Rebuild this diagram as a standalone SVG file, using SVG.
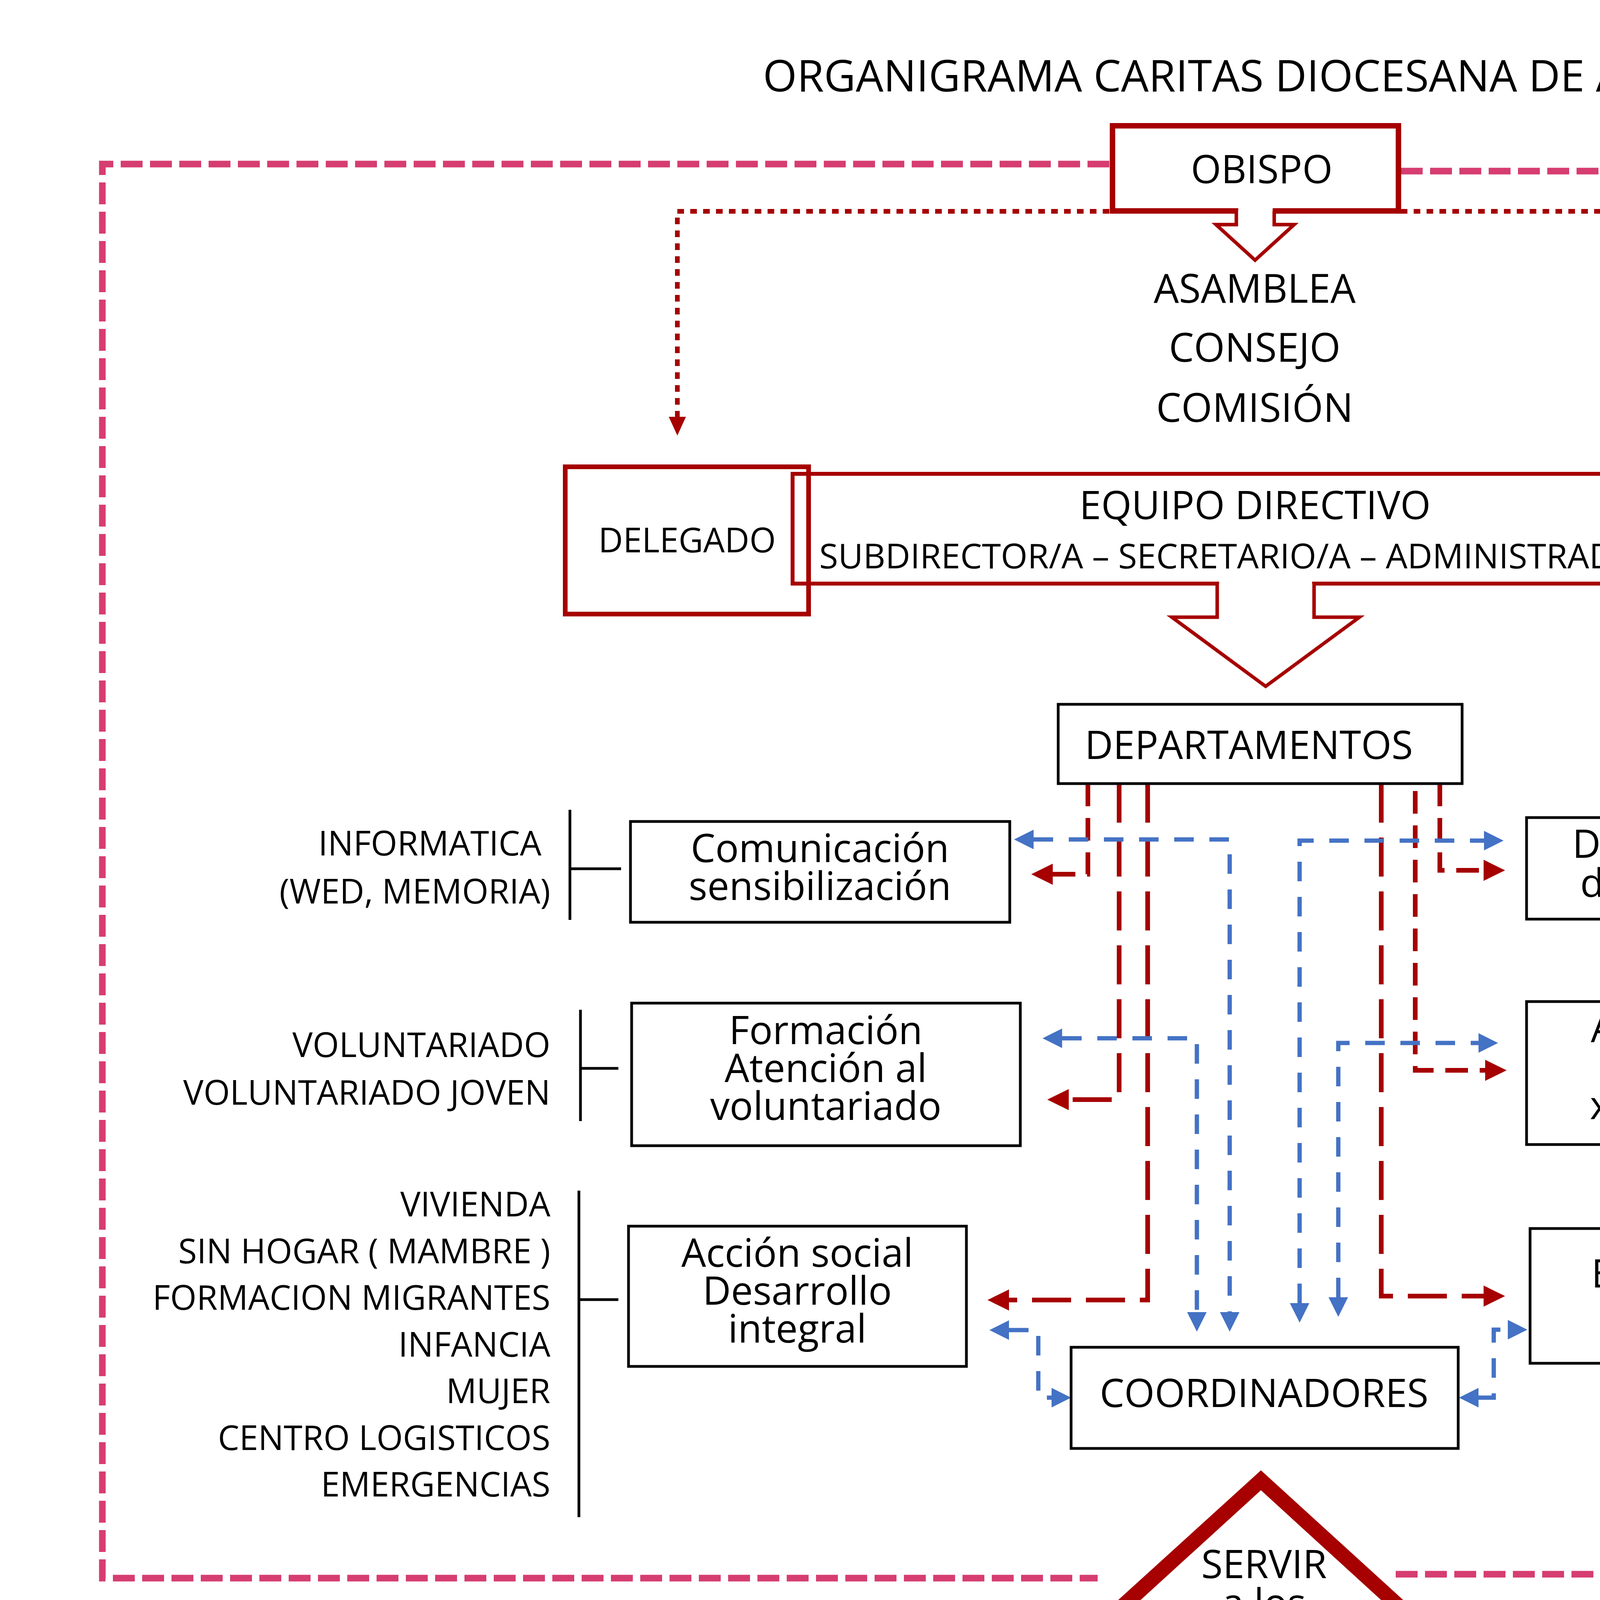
<svg xmlns="http://www.w3.org/2000/svg" width="6500" height="4500" viewBox="0 0 6500 4500">
<style>
text{font-family:"Open Sans","Noto Sans",sans-serif;fill:#000}
.c{text-anchor:middle}
.e{text-anchor:end}
.t100{font-size:100px}
.t85{font-size:87px}
.rbox{fill:none;stroke:#A60000}
.bbox{fill:#fff;stroke:#000;stroke-width:7}
.pink{fill:none;stroke:#D63D70;stroke-width:17;stroke-dasharray:56 19}
.red{fill:none;stroke:#A60000;stroke-width:12}
.rl{stroke-dasharray:100 38}
.rs{stroke-dasharray:58 30}
.blue{fill:none;stroke:#4472C4;stroke-width:11;stroke-dasharray:50 40;marker-start:url(#ba);marker-end:url(#ba)}
.dot{fill:none;stroke:#A60000;stroke-width:12;stroke-dasharray:17 16;marker-end:url(#da)}
.blk{fill:none;stroke:#000;stroke-width:7}
.barrow{fill:#fff;stroke:#A60000;stroke-width:9}
</style>
<defs>
<marker id="ra" markerUnits="userSpaceOnUse" markerWidth="58" markerHeight="54" refX="0" refY="27" orient="auto" overflow="visible"><path d="M0,0 L55,27 L0,54 z" fill="#A60000"/></marker>
<marker id="ba" markerUnits="userSpaceOnUse" markerWidth="52" markerHeight="50" refX="0" refY="25" orient="auto-start-reverse" overflow="visible"><path d="M0,0 L50,25 L0,50 z" fill="#4472C4"/></marker>
<marker id="da" markerUnits="userSpaceOnUse" markerWidth="50" markerHeight="44" refX="0" refY="22" orient="auto" overflow="visible"><path d="M0,0 L48,22 L0,44 z" fill="#A60000"/></marker>
</defs>
<rect width="6500" height="4500" fill="#fff"/>

<text id="title" x="3251" y="234" class="c" font-size="112">ORGANIGRAMA CARITAS DIOCESANA DE ALMERIA</text>

<g id="border">
<path class="pink" d="M2840,420 H262 V4040 H2810"/>
<path class="pink" d="M3586,438 H6274 V4030 H3570"/>
</g>

<g id="connectors">
<path class="dot" d="M2840,541 H1734 V1067"/>
<path class="dot" d="M3586,541 H4735 V1064"/>
<path class="red rs" marker-end="url(#ra)" d="M2785,2006 V2238 H2695"/>
<path class="red rl" marker-end="url(#ra)" d="M2865,2006 V2815 H2736"/>
<path class="red rl" marker-end="url(#ra)" d="M2938,2006 V3328 H2583"/>
<path class="red rl" marker-end="url(#ra)" d="M3536,2006 V3318 H3798"/>
<path class="red rs" marker-end="url(#ra)" d="M3623,2025 V2740 H3802"/>
<path class="red rs" marker-end="url(#ra)" d="M3686,2006 V2228 H3798"/>
<path class="blue" d="M2646,2149 H3148 V3359"/>
<path class="blue" d="M2719,2658 H3064 V3359"/>
<path class="blue" d="M3327,3336 V2152 H3799"/>
<path class="blue" d="M3426,3321 V2670 H3785"/>
<path class="blue" d="M2583,3405 H2658 V3578 H2692"/>
<path class="blue" d="M3785,3578 H3824 V3404 H3860"/>
<path class="blk" d="M1459,2073 V2355 M1459,2224 H1590"/>
<path class="blk" d="M1486,2585 V2870 M1486,2735 H1583"/>
<path class="blk" d="M1482,3048 V3884 M1482,3327 H1583"/>
<path class="blk" d="M4924,1919 V2248 M4808,2179 H4924"/>
<path class="blk" d="M5092,2363 V3012 M4976,2742 H5092"/>
<path class="blk" d="M5186,3176 V3583 M5074,3343 H5186"/>
</g>

<g id="obispo">
<rect class="rbox" x="2848" y="322" width="732" height="218" stroke-width="14" fill="#fff"/>
<rect x="3170" y="530" width="88" height="20" fill="#fff"/>
<path class="barrow" d="M3165,540 V575 H3113 L3213,666 L3313,575 H3262 V540"/>
<text x="3230" y="469" class="c t100">OBISPO</text>
</g>

<g id="asamblea">
<text class="c" font-size="102"><tspan x="3212" y="775">ASAMBLEA</tspan><tspan x="3212" y="926">CONSEJO</tspan><tspan x="3212" y="1080">COMISIÓN</tspan></text>
</g>

<g id="delegado">
<rect class="rbox" x="1447" y="1195" width="623" height="377" stroke-width="12"/>
<text x="1759" y="1414" class="c t85">DELEGADO</text>
</g>

<g id="equipo">
<rect class="rbox" x="2029" y="1213" width="2419" height="281" stroke-width="10"/>
<rect x="3121" y="1485" width="238" height="20" fill="#fff"/>
<path class="barrow" d="M3116,1494 V1580 H3000 L3240,1757 L3480,1580 H3364 V1494"/>
<text x="3213" y="1329" class="c t100">EQUIPO DIRECTIVO</text>
<text x="3220" y="1455" class="c" font-size="88">SUBDIRECTOR/A – SECRETARIO/A – ADMINISTRADOR/A</text>
</g>

<g id="director">
<rect class="rbox" x="4392" y="1186" width="686" height="376" stroke-width="12"/>
<text x="4745" y="1404" class="c t85">DIRECTOR/A</text>
</g>

<g id="departamentos">
<rect class="bbox" x="2709" y="1803" width="1034" height="203"/>
<text x="2777" y="1943" class="t100">DEPARTAMENTOS</text>
</g>

<g id="comunicacion">
<rect class="bbox" x="1614" y="2103" width="971" height="258"/>
<text class="c t100"><tspan x="2099" y="2207">Comunicación</tspan><tspan x="2099" y="2304">sensibilización</tspan></text>
</g>

<g id="formacion">
<rect class="bbox" x="1617" y="2568" width="995" height="365"/>
<text class="c t100"><tspan x="2114" y="2673">Formación</tspan><tspan x="2114" y="2770">Atención al</tspan><tspan x="2114" y="2867">voluntariado</tspan></text>
</g>

<g id="accion">
<rect class="bbox" x="1609" y="3139" width="865" height="359"/>
<text class="c t100"><tspan x="2041" y="3243">Acción social</tspan><tspan x="2041" y="3340">Desarrollo</tspan><tspan x="2041" y="3437">integral</tspan></text>
</g>

<g id="dinamizacion">
<rect class="bbox" x="3908" y="2093" width="857" height="260"/>
<text class="c t100"><tspan x="4340" y="2196">Dinamización</tspan><tspan x="4340" y="2296">del territorio</tspan></text>
</g>

<g id="administracion">
<rect class="bbox" x="3908" y="2564" width="1033" height="366"/>
<text class="c t100"><tspan x="4424" y="2668">Administración</tspan><tspan x="4424" y="2765">Comunicación</tspan><tspan x="4424" y="2865">xtna. de bienes</tspan></text>
</g>

<g id="economia">
<rect class="bbox" x="3917" y="3145" width="1127" height="345"/>
<text class="c t100"><tspan x="4485" y="3296">Economía social y</tspan><tspan x="4485" y="3393">solidaria</tspan></text>
</g>

<g id="coordinadores">
<rect class="bbox" x="2742" y="3449" width="991" height="259"/>
<text x="3236" y="3602" class="c t100">COORDINADORES</text>
</g>

<g id="servir">
<path fill="#A60000" fill-rule="evenodd" d="M3228,3764 L2616,4320 L3838,4320 Z M3228,3815 L3739,4282 L2716,4282 Z"/>
<text class="c t100"><tspan x="3236" y="4040">SERVIR</tspan><tspan x="3236" y="4139">a los</tspan><tspan x="3236" y="4237">POBRES</tspan></text>
</g>

<g id="list-informatica">
<text x="1386" y="2190" class="e t85">INFORMATICA</text>
<text x="1409" y="2313" class="e t85">(WED, MEMORIA)</text>
</g>
<g id="list-voluntariado">
<text x="1409" y="2706" class="e t85">VOLUNTARIADO</text>
<text x="1409" y="2828" class="e t85">VOLUNTARIADO JOVEN</text>
</g>
<g id="list-accion">
<text x="1409" y="3114" class="e t85">VIVIENDA</text>
<text x="1409" y="3234" class="e t85">SIN HOGAR ( MAMBRE )</text>
<text x="1409" y="3353" class="e t85">FORMACION MIGRANTES</text>
<text x="1409" y="3473" class="e t85">INFANCIA</text>
<text x="1409" y="3592" class="e t85">MUJER</text>
<text x="1409" y="3712" class="e t85">CENTRO LOGISTICOS</text>
<text x="1409" y="3831" class="e t85">EMERGENCIAS</text>
</g>
<g id="list-dinamizacion">
<text x="4976" y="1997" class="t85">CÁRITAS PARROQUIALES</text>
<text x="4976" y="2116" class="t85">FONDO DE COMUNICACIÓN</text>
<text x="4976" y="2236" class="t85">CRISTIANA DE BIENES</text>
</g>
<g id="list-administracion">
<text x="5139" y="2416" class="t85">SUBVENCIONES</text>
<text x="5139" y="2536" class="t85">DONANTES</text>
<text x="5139" y="2657" class="t85">SUBCRISTORES</text>
<text x="5139" y="2777" class="t85">MEMORIA</text>
<text x="5139" y="2897" class="t85">CONTABILIDAD</text>
<text x="5139" y="3017" class="t85">FONDO C C B</text>
</g>
<g id="list-economia">
<text x="5229" y="3232" class="t85">CENTRO DE FORMACION</text>
<text x="5229" y="3352" class="t85">ORIENTACION LABORAL</text>
<text x="5229" y="3472" class="t85">Y EMPLEO</text>
<text x="5229" y="3593" class="t85">KOOPERA</text>
</g>
</svg>
